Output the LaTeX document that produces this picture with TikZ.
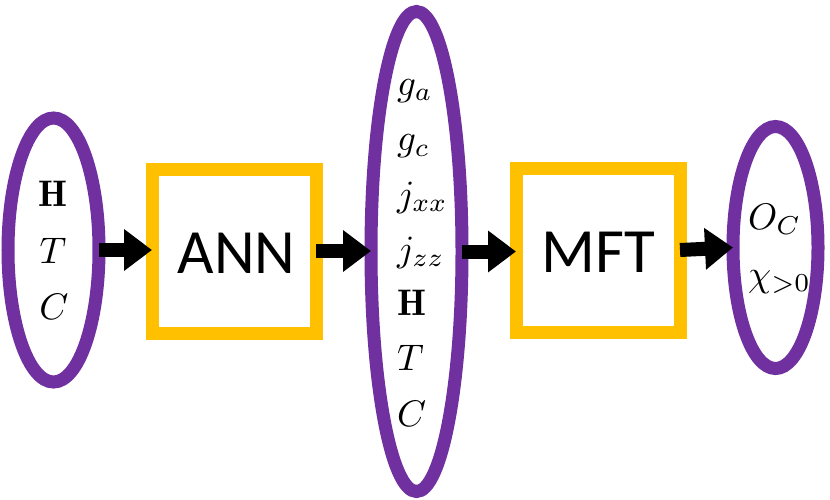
\documentclass[tikz,border=0pt]{standalone}
\usepackage{graphicx}
\usepackage{fontspec}
\newfontfamily\carlito{Carlito}
\usetikzlibrary{shapes.geometric,arrows.meta}
\definecolor{vpurple}{HTML}{7030A0}
\definecolor{vgold}{HTML}{FFC000}
\newcommand{\mylabelmath}[1]{\scalebox{3.7}{$#1$}}
\begin{document}
\begin{tikzpicture}[x=1pt,y=-1pt,
  oval/.style={ellipse, draw=vpurple, line width=13pt, inner sep=0pt, outer sep=0pt},
  proc/.style={rectangle, draw=vgold, line width=13pt, minimum width=164pt, minimum height=164pt, inner sep=0pt, outer sep=0pt},
  ptext/.style={inner sep=0pt, font=\carlito\fontsize{63}{70}\selectfont},
  flow/.style={line width=14pt, -{Triangle[length=28pt,width=40pt]}},
  lbl/.style={inner sep=0pt}]
\useasboundingbox (0,0) rectangle (830,499);
% ovals
\node[oval, minimum width=91pt, minimum height=264pt] (e1) at (53.5,250) {};
\node[oval, minimum width=91pt, minimum height=480pt] (e2) at (416.5,251.5) {};
\node[oval, minimum width=85pt, minimum height=242pt] (e3) at (775.5,247.5) {};
% boxes
\node[proc] (ann) at (234,251) {};
\node[proc] (mft) at (598,250) {};
\node[ptext] (anntext) at (236.5,253) {ANN};
\node[ptext] (mfttext) at (598,252.5) {MFT};
% left labels
\node[lbl, anchor=base] (l1) at (53,206) {\mylabelmath{\mathbf{H}}};
\node[lbl, anchor=base] (l2) at (53,263) {\mylabelmath{T}};
\node[lbl, anchor=base] (l3) at (54,319) {\mylabelmath{C}};
% middle labels
\node[lbl, anchor=base west] (m1) at (397,95) {\mylabelmath{g_a}};
\node[lbl, anchor=base west] (m2) at (397,150.5) {\mylabelmath{g_c}};
\node[lbl, anchor=base west] (m3) at (397,206) {\mylabelmath{j_{xx}}};
\node[lbl, anchor=base west] (m4) at (397,261) {\mylabelmath{j_{zz}}};
\node[lbl, anchor=base west] (m5) at (397,315.5) {\mylabelmath{\mathbf{H}}};
\node[lbl, anchor=base west] (m6) at (397,370.5) {\mylabelmath{T}};
\node[lbl, anchor=base west] (m7) at (397,426) {\mylabelmath{C}};
% right labels
\node[lbl, anchor=base west] (r1) at (748,229) {\mylabelmath{O_C}};
\node[lbl, anchor=base west] (r2) at (748,286) {\mylabelmath{\chi_{>0}}};
% arrows
\draw[flow] (e1.east) -- (e1.east -| ann.west);
\draw[flow] (ann.east) -- (ann.east -| e2.west);
\draw[flow] (e2.east) -- (e2.east -| mft.west);
\draw[flow] (mft.east) -- (e3.west);
\end{tikzpicture}
\end{document}
